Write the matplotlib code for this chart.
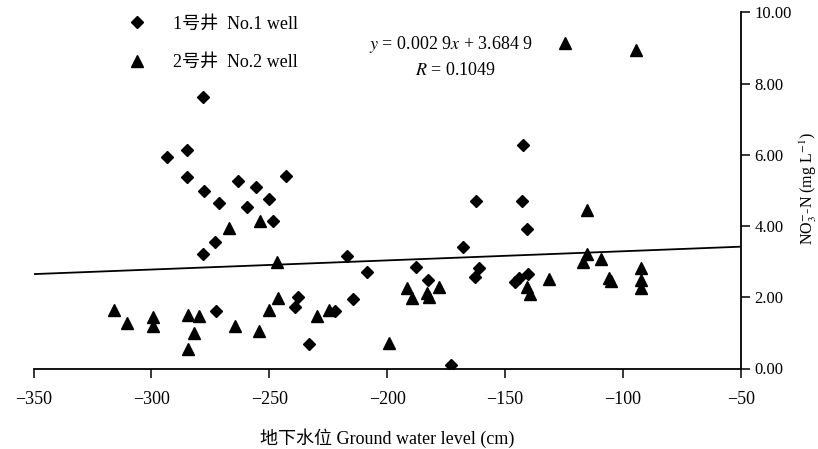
import matplotlib
matplotlib.use("Agg")
import matplotlib.pyplot as plt

# ---- data ----
well1_x = [-278.0, -293.5, -285.0, -285.0, -277.6, -271.5, -263.4, -255.8, -250.0, -242.9,
           -259.6, -248.3, -273.0, -278.0, -272.7, -237.7, -239.1, -233.0, -222.1, -216.9,
           -208.7, -214.4, -187.8, -182.6, -172.9, -168.0, -161.1, -162.9, -145.8, -144.3,
           -140.4, -142.5, -162.5, -143.0, -140.9]
well1_y = [7.62, 5.93, 6.14, 5.37, 4.99, 4.66, 5.27, 5.09, 4.76, 5.41,
           4.53, 4.13, 3.56, 3.21, 1.62, 2.00, 1.74, 0.70, 1.61, 3.17,
           2.72, 1.94, 2.84, 2.49, 0.11, 3.42, 2.83, 2.58, 2.42, 2.55,
           2.65, 6.28, 4.69, 4.69, 3.92]

well2_x = [-267.0, -254.0, -246.9, -315.7, -310.2, -299.5, -299.5, -284.6, -279.7, -281.8,
           -284.6, -264.7, -254.5, -250.0, -246.2, -229.6, -224.6, -199.1, -191.7, -189.6,
           -183.3, -182.1, -178.2, -140.8, -139.4, -131.5, -124.6, -94.6, -115.1, -115.4,
           -116.8, -109.3, -105.8, -105.2, -92.4, -92.4, -92.4]
well2_y = [3.94, 4.15, 3.00, 1.64, 1.27, 1.44, 1.19, 1.50, 1.47, 1.01,
           0.55, 1.19, 1.06, 1.64, 1.99, 1.46, 1.64, 0.72, 2.25, 1.97,
           2.13, 2.02, 2.28, 2.30, 2.09, 2.52, 9.13, 8.93, 4.45, 3.22,
           3.00, 3.07, 2.53, 2.47, 2.83, 2.49, 2.25]

fit_x = [-350, -50]
fit_y = [2.65, 3.42]

x_ticks = [-350, -300, -250, -200, -150, -100, -50]
y_ticks = [0, 2, 4, 6, 8, 10]

label1 = "1号井  No.1 well"
label2 = "2号井  No.2 well"
eq_text = r"$y$ = 0.002 9$x$ + 3.684 9"
r_text = r"$R$ = 0.1049"
x_label = "地下水位 Ground water level (cm)"
y_label = r"NO$_3^{-}$-N (mg L$^{-1}$)"

# ---- style ----
plt.rcParams['font.family'] = ['Liberation Serif', 'Noto Sans CJK SC', 'DejaVu Sans']
plt.rcParams['mathtext.fontset'] = 'stix'
FS = 13

fig = plt.figure(figsize=(8.18, 4.49), dpi=100)
ax = fig.add_axes([33.5 / 818, 1 - 368.5 / 449, (741 - 33.5) / 818, (368.5 - 12.3) / 449])

ax.plot(fit_x, fit_y, color='black', lw=1.3, zorder=1)
ax.plot(well1_x, well1_y, ls='none', marker='D', ms=6.3, color='black', label=label1, zorder=3)
ax.plot(well2_x, well2_y, ls='none', marker='^', ms=9, color='black', label=label2, zorder=3)

ax.set_xlim(-350, -50)
ax.set_ylim(0, 10)
ax.set_xticks(x_ticks)
ax.set_yticks(y_ticks)
ax.set_yticklabels([f"{v:.2f}" for v in y_ticks])

for s in ['top', 'left']:
    ax.spines[s].set_visible(False)
ax.spines['bottom'].set_linewidth(1.3)
ax.spines['right'].set_linewidth(1.3)
ax.yaxis.tick_right()
ax.tick_params(axis='x', direction='out', length=6.5, width=1.1, labelsize=FS, pad=10)
ax.tick_params(axis='y', direction='out', length=6.5, width=1.1, labelsize=12, pad=3)

ax.set_xlabel(x_label, fontsize=FS, labelpad=14)
fig.text(808.5 / 818, 1 - 189 / 449, y_label, fontsize=11.5, rotation=90,
         ha='center', va='center')

ax.text(0.59, 0.91, eq_text, transform=ax.transAxes, fontsize=FS, ha='center', va='center')
ax.text(0.597, 0.837, r_text, transform=ax.transAxes, fontsize=FS, ha='center', va='center')

ax.legend(loc='upper left', bbox_to_anchor=(118.7 / 818, 1 - 15.5 / 449),
          bbox_transform=fig.transFigure, frameon=False, fontsize=FS,
          borderpad=0, borderaxespad=0, handlelength=2.0, handletextpad=1.0,
          labelspacing=1.2, numpoints=1)

fig.savefig("out.png", dpi=100)
